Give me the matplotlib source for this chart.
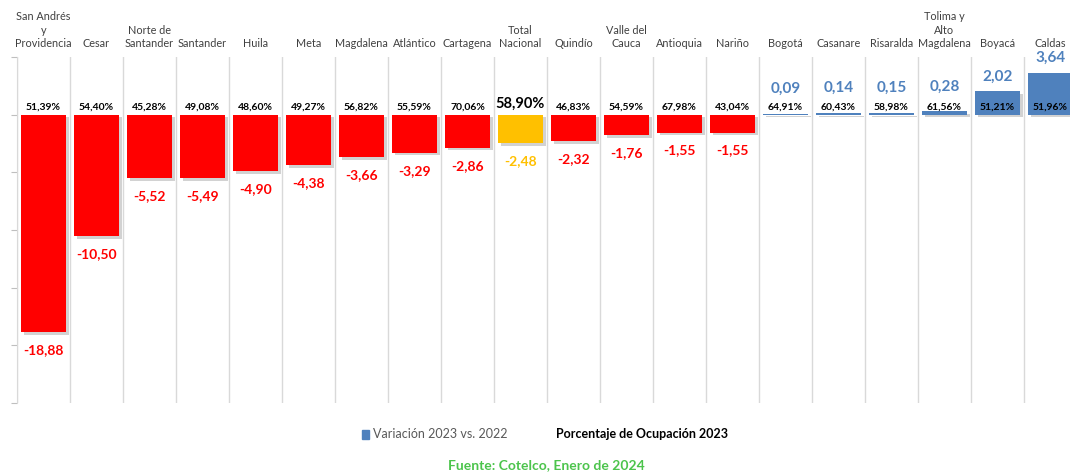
import matplotlib
matplotlib.use("Agg")
from matplotlib import pyplot as plt
from matplotlib import patheffects as pe
from matplotlib.patches import Rectangle
import matplotlib.transforms as mtransforms

plt.rcParams['font.family'] = ['Lato', 'DejaVu Sans']

categorias = ["San Andrés\ny\nProvidencia", "Cesar", "Norte de\nSantander", "Santander", "Huila",
              "Meta", "Magdalena", "Atlántico", "Cartagena", "Total\nNacional", "Quindío",
              "Valle del\nCauca", "Antioquia", "Nariño", "Bogotá", "Casanare", "Risaralda",
              "Tolima y\nAlto\nMagdalena", "Boyacá", "Caldas"]
variacion = [-18.88, -10.50, -5.52, -5.49, -4.90, -4.38, -3.66, -3.29, -2.86, -2.48, -2.32,
             -1.76, -1.55, -1.55, 0.09, 0.14, 0.15, 0.28, 2.02, 3.64]
ocupacion = [51.39, 54.40, 45.28, 49.08, 48.60, 49.27, 56.82, 55.59, 70.06, 58.90, 46.83,
             54.59, 67.98, 43.04, 64.91, 60.43, 58.98, 61.56, 51.21, 51.96]

ROJO = "#FF0000"
AMARILLO = "#FFC000"
AZUL = "#4F81BD"

def fmt(v, dec=2):
    return f"{v:.{dec}f}".replace(".", ",")

fig = plt.figure(figsize=(10.7, 4.72), dpi=100)
ax = fig.add_axes([17/1070, 69/472, 1060/1070, 346/472])

x = list(range(len(categorias)))
colores = []
for c, v in zip(categorias, variacion):
    if c.startswith("Total"):
        colores.append(AMARILLO)
    elif v < 0:
        colores.append(ROJO)
    else:
        colores.append(AZUL)

bars = ax.bar(x, variacion, width=0.85, color=colores, zorder=3)
for b in bars:
    b.set_path_effects([pe.SimplePatchShadow(offset=(2, -2), shadow_rgbFace="gray", alpha=0.35),
                        pe.Normal()])

ax.set_xlim(-0.5, len(categorias) - 0.5)
ax.set_ylim(-25, 5)

for i in range(len(categorias) + 1):
    ax.axvline(i - 0.5, color="#D9D9D9", lw=1, zorder=1)

ax.set_yticks([5, 0, -5, -10, -15, -20, -25])
ax.set_yticklabels([])
ax.tick_params(axis="y", length=4, color="#BFBFBF", direction="out")
ax.set_xticks([])
for s in ["top", "right", "bottom"]:
    ax.spines[s].set_visible(False)
ax.spines["left"].set_color("#D9D9D9")

trans = mtransforms.blended_transform_factory(ax.transData, ax.transAxes)
for i, (c, v, o) in enumerate(zip(categorias, variacion, ocupacion)):
    ax.text(i, 1.022, c, transform=trans, ha="center", va="bottom", fontsize=7.8,
            color="#404040", linespacing=1.3)
    total = c.startswith("Total")
    ax.text(i, 0.3, fmt(o) + "%", ha="center", va="bottom", fontsize=10.5 if total else 7.5,
            fontweight="bold", color="black", zorder=5)
    if v < 0:
        col = AMARILLO if total else ROJO
        ax.annotate(fmt(v), (i, v), xytext=(0, -18), textcoords="offset pixels",
                    ha="center", va="center", fontsize=10, fontweight="bold", color=col)
    else:
        ax.annotate(fmt(v), (i, v), xytext=(0, 15 if v > 1 else 25), textcoords="offset pixels",
                    ha="center", va="center", fontsize=11, fontweight="bold", color=AZUL)

fig.patches.append(Rectangle((362/1070, 1 - 439/472), 7/1070, 9/472, transform=fig.transFigure,
                             color=AZUL, figure=fig))
fig.text(373/1070, 1 - 434/472, "Variación 2023 vs. 2022", fontsize=9, color="#595959",
         ha="left", va="center")
fig.text(556/1070, 1 - 434/472, "Porcentaje de Ocupación 2023", fontsize=9, color="black",
         fontweight="bold", ha="left", va="center")
fig.text(546/1070, 1 - 465/472, "Fuente: Cotelco, Enero de 2024", fontsize=10, color="#4CC44C",
         fontweight="bold", ha="center", va="center")

fig.savefig("out.png", dpi=100)
